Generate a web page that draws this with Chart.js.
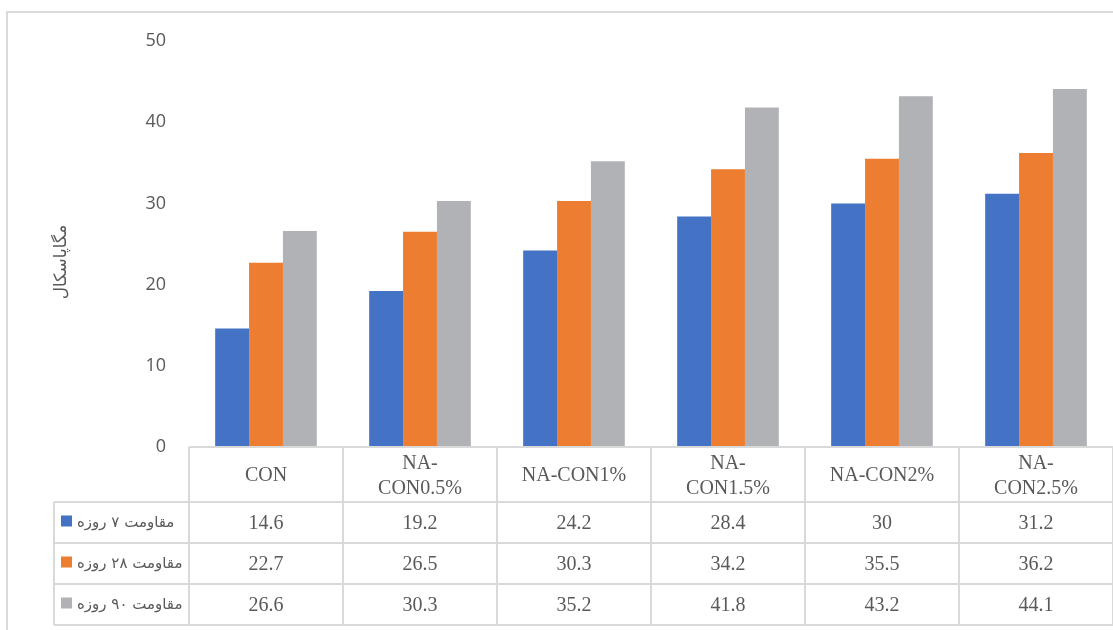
<!DOCTYPE html>
<html>
<head>
<meta charset="utf-8">
<script src="https://cdn.jsdelivr.net/npm/chart.js@4/dist/chart.umd.min.js"></script>
<style>
  html, body { margin: 0; padding: 0; background: #fff; }
  #wrap { width: 1113px; height: 630px; }
</style>
</head>
<body>
<div id="wrap"><canvas id="chart" width="1113" height="630"></canvas></div>
<script>
  const categories = ["CON", "NA-CON0.5%", "NA-CON1%", "NA-CON1.5%", "NA-CON2%", "NA-CON2.5%"];
  const headerLines = [["CON"], ["NA-", "CON0.5%"], ["NA-CON1%"], ["NA-", "CON1.5%"], ["NA-CON2%"], ["NA-", "CON2.5%"]];
  const seriesNames = ["مقاومت ۷ روزه", "مقاومت ۲۸ روزه", "مقاومت ۹۰ روزه"];
  const day7 = [14.6, 19.2, 24.2, 28.4, 30, 31.2];
  const day28 = [22.7, 26.5, 30.3, 34.2, 35.5, 36.2];
  const day90 = [26.6, 30.3, 35.2, 41.8, 43.2, 44.1];
  const yTicks = [0, 10, 20, 30, 40, 50];
  const yTitle = "مگاپاسکال";
  const colors = ["#4472C4", "#ED7D31", "#B1B2B6"];

  const lineColor = "#d9d9d9";
  const textColor = "#595959";

  // frame + y title + data table
  const tablePlugin = {
    id: "tablePlugin",
    beforeDraw(chart) {
      const ctx = chart.ctx;
      ctx.save();
      ctx.strokeStyle = lineColor;
      ctx.lineWidth = 2;
      ctx.strokeRect(7, 12, 1200, 700);
      ctx.restore();
    },
    afterDraw(chart) {
      const ctx = chart.ctx;
      const x = chart.scales.x;
      const y = chart.scales.y;
      const n = categories.length;
      const cw = (x.right - x.left) / n;
      const top = y.getPixelForValue(0);
      const headH = 55, rowH = 41;
      const labelLeft = 54;
      const rows = [day7, day28, day90];

      ctx.save();
      ctx.strokeStyle = lineColor;
      ctx.lineWidth = 2;
      ctx.beginPath();
      // header top line
      ctx.moveTo(x.left, top); ctx.lineTo(x.right + 5, top);
      // row lines
      for (let r = 0; r <= rows.length; r++) {
        const yy = top + headH + r * rowH;
        ctx.moveTo(labelLeft, yy); ctx.lineTo(x.right + 5, yy);
      }
      // verticals
      const bottom = top + headH + rows.length * rowH;
      for (let i = 0; i <= n; i++) {
        const xx = x.left + i * cw;
        ctx.moveTo(xx, top); ctx.lineTo(xx, bottom);
      }
      ctx.moveTo(labelLeft, top + headH); ctx.lineTo(labelLeft, bottom);
      ctx.stroke();

      // header text
      ctx.fillStyle = textColor;
      ctx.font = "20px 'Liberation Serif'";
      ctx.textAlign = "center";
      ctx.textBaseline = "middle";
      headerLines.forEach((lines, i) => {
        const cx = x.getPixelForValue(i);
        const cy = top + headH / 2 + 1;
        if (lines.length === 1) {
          ctx.fillText(lines[0], cx, cy);
        } else {
          ctx.fillText(lines[0], cx, cy - 12);
          ctx.fillText(lines[1], cx, cy + 13);
        }
      });

      // values
      rows.forEach((vals, r) => {
        const cy = top + headH + r * rowH + rowH / 2 + 1;
        vals.forEach((v, i) => {
          ctx.fillText(String(v), x.getPixelForValue(i), cy);
        });
        // legend key
        ctx.fillStyle = colors[r];
        ctx.fillRect(61, cy - 8, 11, 11);
        ctx.fillStyle = textColor;
        ctx.font = "15px 'DejaVu Sans'";
        ctx.textAlign = "left";
        ctx.fillText(seriesNames[r], 77, cy);
        ctx.font = "20px 'Liberation Serif'";
        ctx.textAlign = "center";
      });

      // y axis title
      ctx.translate(62, (y.top + y.bottom) / 2 + 18);
      ctx.rotate(-Math.PI / 2);
      ctx.font = "17px 'DejaVu Sans'";
      ctx.fillText(yTitle, 0, 0);
      ctx.restore();
    }
  };

  new Chart(document.getElementById("chart"), {
    type: "bar",
    data: {
      labels: categories,
      datasets: [
        { label: seriesNames[0], data: day7, backgroundColor: colors[0] },
        { label: seriesNames[1], data: day28, backgroundColor: colors[1] },
        { label: seriesNames[2], data: day90, backgroundColor: colors[2] }
      ]
    },
    options: {
      responsive: false,
      animation: false,
      layout: { padding: { top: 41, bottom: 183, left: 0, right: 0 } },
      datasets: { bar: { barPercentage: 1, categoryPercentage: 0.66 } },
      plugins: { legend: { display: false }, tooltip: { enabled: false } },
      scales: {
        x: { display: false },
        y: {
          min: 0, max: 50,
          afterFit(scale) { scale.width = 189; },
          afterBuildTicks(scale) { scale.ticks = yTicks.map(v => ({ value: v })); },
          grid: { display: false, drawTicks: false },
          border: { display: false },
          ticks: { padding: 23, color: textColor, font: { family: "'Open Sans'", size: 18 } }
        }
      }
    },
    plugins: [tablePlugin]
  });
</script>
</body>
</html>
